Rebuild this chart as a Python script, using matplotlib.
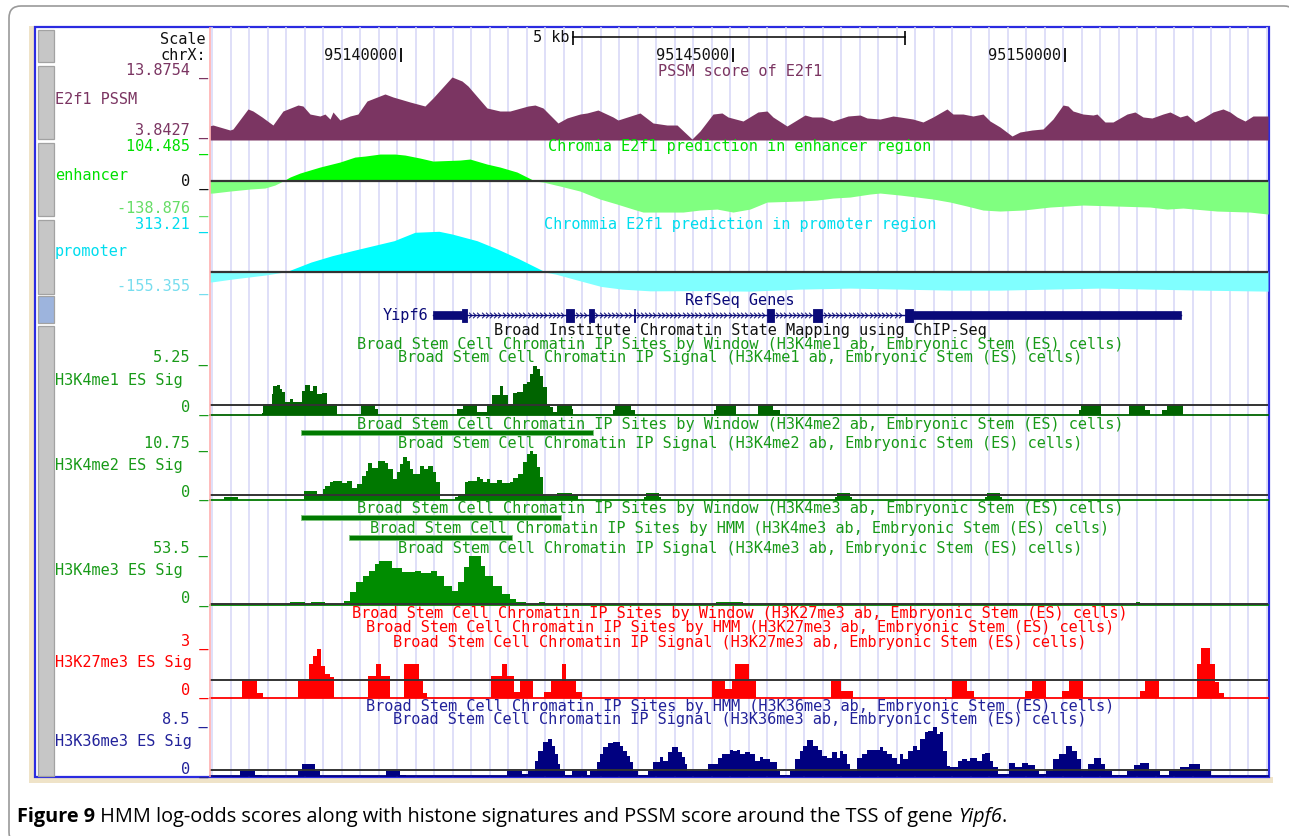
import numpy as np
import matplotlib.pyplot as plt
from matplotlib.patches import FancyBboxPatch, Rectangle
from matplotlib.path import Path

# genome browser view of chrX around Yipf6, x in kb relative to 95,140,000
view_kb = (-2.876, 13.057)
pos_ticks_kb = [0, 5, 10]
pos_tick_labels = ['95140000', '95145000', '95150000']
scale_bar_kb = (2.595, 7.595)
guide_start_kb, guide_step_kb = -2.839, 0.2786

# E2f1 PSSM score
pssm_kb = [-2.876, -2.831, -2.575, -2.530, -2.304, -2.229, -2.093, -1.928, -1.777, -1.551,
           -1.476, -1.370, -1.220, -1.145, -1.069, -1.024, -0.919, -0.768, -0.648, -0.512,
           -0.241, -0.120, -0.015, 0.136, 0.361, 0.482, 0.768, 0.919, 1.009, 1.295,
           1.491, 1.642, 1.913, 2.018, 2.139, 2.364, 2.500, 2.696, 2.801, 2.967,
           3.193, 3.268, 3.599, 3.795, 4.006, 4.157, 4.382, 4.503, 4.699, 4.834,
           4.925, 5.151, 5.376, 5.512, 5.602, 5.813, 6.084, 6.190, 6.340, 6.506,
           6.732, 6.913, 7.018, 7.214, 7.410, 7.515, 7.711, 7.861, 8.012, 8.223,
           8.313, 8.464, 8.614, 8.765, 8.870, 9.021, 9.202, 9.322, 9.503, 9.669,
           9.819, 9.970, 10.045, 10.120, 10.271, 10.422, 10.482, 10.602, 10.723, 10.934,
           11.054, 11.175, 11.310, 11.476, 11.581, 11.732, 11.837, 11.958, 12.078, 12.229,
           12.379, 12.485, 12.590, 12.711, 12.831, 13.057]
pssm_val = [6.0, 6.12, 5.36, 5.52, 8.56, 8.25, 7.34, 6.12, 8.25, 9.16,
            9.01, 7.79, 7.49, 7.79, 7.03, 8.10, 6.88, 7.49, 7.79, 9.77,
            10.84, 10.38, 10.07, 9.62, 9.01, 10.23, 13.42, 12.81, 12.05, 8.71,
            8.25, 8.25, 9.01, 9.16, 8.71, 6.43, 7.19, 7.79, 7.95, 8.40,
            7.34, 6.88, 7.95, 6.43, 6.12, 6.12, 3.99, 5.21, 7.79, 7.95,
            7.34, 6.73, 8.10, 8.25, 7.34, 5.97, 7.64, 7.34, 7.34, 6.73,
            7.49, 7.64, 7.19, 7.03, 7.49, 7.34, 7.03, 6.58, 7.34, 8.56,
            7.79, 7.79, 7.49, 7.79, 6.73, 5.82, 4.45, 5.06, 5.36, 5.52,
            7.03, 9.16, 9.01, 8.25, 7.79, 7.64, 7.79, 6.58, 6.58, 7.79,
            8.10, 7.34, 7.19, 7.79, 8.10, 7.34, 7.64, 6.58, 7.19, 8.10,
            8.56, 8.10, 7.34, 6.73, 7.49, 7.49]
pssm_range = (3.8427, 13.8754)

# Chromia E2f1 prediction, enhancer model
enh_kb = [-2.876, -2.831, -2.575, -2.274, -2.048, -1.898, -1.777, -1.672, -1.521, -1.220,
          -0.919, -0.693, -0.542, -0.316, -0.090, 0.060, 0.286, 0.482, 0.889, 1.039,
          1.295, 1.491, 1.747, 1.898, 2.018, 2.139, 2.395, 2.696, 2.997, 3.253,
          3.494, 3.645, 4.006, 4.247, 4.503, 4.759, 5.000, 5.256, 5.512, 6.009,
          6.265, 6.506, 6.762, 7.063, 7.214, 7.515, 7.771, 8.012, 8.268, 8.524,
          8.765, 9.021, 9.367, 9.774, 10.271, 10.783, 11.280, 11.536, 11.777, 12.289,
          12.786, 13.057]
enh_val = [-42, -41.7, -34.8, -27.8, -24.3, -13.9, 0, 13.9, 27.8, 48.7,
           66.1, 83.4, 86.9, 93.9, 93.9, 90.4, 80.0, 69.5, 73.0, 76.5,
           59.1, 48.7, 31.3, 13.9, 0, -3.5, -17.4, -34.8, -62.6, -80.0,
           -97.4, -107.8, -107.8, -107.8, -100.8, -97.4, -107.8, -97.4, -73.0, -69.5,
           -66.1, -59.1, -55.6, -45.2, -41.7, -48.7, -55.6, -62.6, -73.0, -86.9,
           -100.8, -104.3, -100.8, -90.4, -83.4, -86.9, -90.4, -97.4, -93.9, -104.3,
           -107.8, -114.7]
enh_range = (-138.876, 104.485)

# Chromia E2f1 prediction, promoter model
pro_kb = [-2.876, -2.836, -2.545, -2.048, -1.732, -1.355, -1.039, -0.738, -0.422, -0.105,
          0.211, 0.572, 0.768, 1.145, 1.453, 1.762, 2.139, 2.327, 2.696, 3.012,
          3.328, 3.750, 4.503, 5.256, 6.009, 6.762, 7.515, 8.268, 9.021, 9.774,
          10.527, 11.280, 12.033, 13.057]
pro_val = [-75, -73.4, -53.6, -24.2, 0, 71.2, 117.4, 154.1, 190.8, 227.5,
           289.2, 296.5, 276.7, 227.5, 166.6, 98.4, 7.3, -16.9, -66, -107.2,
           -127, -139.5, -138, -141.7, -127, -119.6, -127, -134.3, -134.3, -127,
           -119.6, -127, -134.3, -141.7]
pro_range = (-155.355, 313.21)

# RefSeq gene Yipf6
gene_span_kb = (0.482, 11.744)
utr_kb = [(0.482, 0.919), (7.707, 11.744)]
cds_kb = [(0.919, 1.001), (2.485, 2.606), (2.827, 2.902), (3.507, 3.524),
          (5.512, 5.623), (6.206, 6.339), (7.596, 7.707)]

# Broad ChIP-seq sites (window / HMM calls)
me2_window_kb = (-1.500, 2.890)
me3_window_kb = (-1.500, 2.410)
me3_hmm_kb = (-0.776, 1.672)

# Broad ChIP-seq signal, bins given by start (kb) and value
me1_start = [-2.876, -2.098, -2.074, -1.947, -1.923, -1.872, -1.822, -1.797, -1.747, -1.672,
             -1.622, -1.495, -1.446, -1.370, -1.321, -1.270, -1.194, -1.119, -0.968, -0.607,
             -0.392, -0.342, 0.839, 0.938, 1.140, 1.215, 1.291, 1.366, 1.491, 1.541,
             1.616, 1.691, 1.742, 1.842, 1.893, 1.943, 1.992, 2.044, 2.093, 2.143,
             2.194, 2.244, 2.294, 2.345, 2.571, 2.595, 3.193, 3.223, 3.464, 3.524,
             4.714, 4.744, 5.045, 5.376, 5.610, 5.708, 10.211, 10.241, 10.542, 10.964,
             11.205, 11.280, 11.461, 11.536, 11.784]
me1_val = [0, 0.17, 1.09, 2.08, 2.90, 3.00, 2.58, 2.25, 1.26, 1.59,
           1.26, 2.41, 3.00, 2.41, 2.90, 2.08, 2.15, 1.09, 0, 1.02,
           0.59, 0, 0.59, 1.02, 0.26, 0.30, 1.09, 2.02, 2.90, 2.02,
           1.09, 2.15, 2.25, 3.07, 3.24, 4.06, 4.89, 4.56, 3.90, 2.74,
           1.09, 0.76, 0.26, 1.02, 0.59, 0, 0.5, 1.02, 0.5, 0,
           0.5, 1.02, 0, 1.02, 0.5, 0, 0.5, 1.02, 0, 1.02,
           0.5, 0, 0.5, 1.02, 0]

me2_start = [-2.876, -2.666, -2.455, -1.461, -1.270, -1.179, -1.145, -1.069, -1.020, -0.893,
             -0.818, -0.742, -0.667, -0.592, -0.527, -0.492, -0.441, -0.342, -0.241, -0.191,
             -0.116, -0.065, -0.015, 0.035, 0.086, 0.136, 0.185, 0.286, 0.346, 0.411,
             0.486, 0.527, 0.587, 0.813, 0.858, 0.964, 1.014, 1.140, 1.190, 1.239,
             1.291, 1.340, 1.441, 1.517, 1.642, 1.691, 1.767, 1.842, 1.893, 1.943,
             1.992, 2.044, 2.093, 2.143, 2.169, 2.345, 2.571, 2.670, 3.660, 3.690,
             3.885, 3.916, 6.536, 6.566, 6.762, 6.792, 8.795, 8.825, 9.021, 9.051]
me2_val = [0, 0.6, 0, 1.79, 1.15, 2.11, 2.75, 3.39, 3.58, 3.26,
           3.58, 2.30, 3.07, 4.67, 5.63, 7.10, 6.08, 7.55, 7.10, 5.95,
           4.03, 5.32, 6.91, 8.19, 7.55, 5.95, 4.99, 6.59, 5.95, 6.59,
           5.32, 3.52, 0, 0.5, 1.1, 3.39, 3.71, 4.35, 4.03, 3.39,
           4.0, 3.26, 3.90, 3.26, 3.39, 4.23, 4.99, 7.23, 8.83, 9.47,
           8.83, 6.27, 4.5, 1.0, 0.7, 1.34, 0.96, 0, 0.6, 1.3,
           0.6, 0, 0.6, 1.3, 0.6, 0, 0.6, 1.3, 0.6, 0]

me3_start = [-2.876, -2.417, -1.672, -1.446, -1.355, -1.145, -0.858, -0.768, -0.670, -0.575,
             -0.482, -0.389, -0.325, -0.139, 0.018, 0.205, 0.298, 0.455, 0.548, 0.642,
             0.767, 0.860, 0.953, 1.017, 1.203, 1.267, 1.392, 1.517, 1.642, 1.735,
             1.890, 2.078, 2.172, 2.327, 2.422, 2.636, 4.578, 4.744, 5.151, 7.063,
             7.304, 10.934, 11.069, 11.129, 11.265, 12.620, 12.861]
me3_val = [0.8, 0, 3.3, 0, 3.3, 1, 4.4, 12.8, 22.9, 29.6,
           34.6, 41.4, 44.7, 37, 33, 34.6, 32.3, 34.6, 29.6, 19.5,
           14.5, 22.9, 38, 49.1, 39.7, 29.6, 19.5, 11.1, 6, 3.3,
           1, 3.3, 0, 1.5, 0, 1, 0, 3.3, 1, 0,
           1, 0, 3, 0, 1, 0, 1]

k27_start = [-2.876, -2.387, -2.169, -2.074, -1.556, -1.387, -1.325, -1.262, -1.200, -1.139,
             -1.075, -1.014, -0.494, -0.369, -0.295, -0.170, 0.048, 0.267, 0.330, 0.392,
             1.360, 1.517, 1.590, 1.703, 1.797, 1.985, 2.154, 2.253, 2.422, 2.483,
             2.640, 2.733, 4.684, 4.882, 4.982, 5.035, 5.247, 5.346, 6.483, 6.623,
             6.801, 8.291, 8.522, 8.622, 9.402, 9.501, 9.714, 9.958, 10.063, 10.275,
             11.122, 11.202, 11.414, 11.995, 12.054, 12.188, 12.254, 12.319, 12.387]
k27_val = [0, 0.94, 0.28, 0, 0.94, 1.92, 2.40, 2.77, 1.83, 1.36,
           1.17, 0, 1.23, 1.92, 1.23, 0, 1.92, 0.94, 0.28, 0,
           1.23, 1.92, 1.23, 0.34, 0.94, 0, 0.34, 0.94, 1.92, 0.94,
           0.34, 0, 0.94, 0.5, 0.94, 1.92, 0.94, 0, 0.94, 0.4,
           0, 0.94, 0.4, 0, 0.4, 0.94, 0, 0.4, 0.94, 0,
           0.4, 0.94, 0, 1.92, 2.83, 1.92, 0.9, 0.3, 0]

k36_start = [-2.876, -2.417, -2.199, -2.093, -1.556, -1.494, -1.294, -1.220, -0.232, -0.014,
             0.080, 1.592, 1.818, 1.917, 2.018, 2.068, 2.143, 2.218, 2.270, 2.319,
             2.369, 2.395, 2.470, 2.571, 2.797, 2.846, 2.947, 2.997, 3.047, 3.122,
             3.197, 3.298, 3.348, 3.399, 3.449, 3.498, 3.574, 3.724, 3.800, 3.901,
             3.950, 4.026, 4.077, 4.176, 4.227, 4.277, 4.303, 4.628, 4.778, 4.830,
             4.955, 5.004, 5.056, 5.105, 5.181, 5.256, 5.331, 5.407, 5.456, 5.557,
             5.658, 5.708, 5.858, 5.934, 6.009, 6.059, 6.110, 6.209, 6.285, 6.336,
             6.411, 6.486, 6.562, 6.611, 6.661, 6.712, 6.762, 6.863, 6.938, 7.013,
             7.089, 7.214, 7.263, 7.315, 7.390, 7.465, 7.515, 7.565, 7.640, 7.715,
             7.766, 7.816, 7.891, 7.941, 8.016, 8.068, 8.117, 8.167, 8.218, 8.268,
             8.393, 8.444, 8.519, 8.569, 8.670, 8.745, 8.795, 8.870, 8.920, 8.995,
             9.150, 9.250, 9.349, 9.449, 9.548, 9.614, 9.714, 9.812, 9.909, 10.010,
             10.110, 10.176, 10.242, 10.342, 10.441, 10.540, 10.607, 10.706, 10.937, 11.036,
             11.135, 11.268, 11.434, 11.566, 11.732, 11.864, 12.028, 12.194]
k36_val = [0, 0.77, 0.1, 0, 0.77, 1.96, 0.77, 0, 0.77, 0.2,
           0, 0.77, 0.3, 0.77, 2.5, 4.14, 5.5, 6.05, 4.96, 3.6,
           1.96, 0.77, 0.2, 0.77, 0.2, 0.77, 2.24, 3.6, 4.69, 5.34,
           5.5, 4.96, 4.14, 3.33, 2.24, 0.77, 0.2, 0.77, 2.24, 3.16,
           2.5, 3.87, 4.79, 3.87, 3.16, 1.96, 0.77, 1.96, 3.0, 3.6,
           4.3, 4.14, 4.3, 3.6, 4.0, 3.6, 2.5, 3.16, 2.8, 2.24,
           0.77, 0.2, 0.77, 2.8, 4.14, 4.96, 5.94, 4.96, 4.3, 3.33,
           3.0, 3.87, 3.0, 4.14, 3.6, 1.96, 0.77, 3.0, 3.6, 4.2,
           4.3, 4.79, 4.14, 3.6, 3.0, 1.96, 3.6, 2.8, 4.14, 4.96,
           4.3, 6.05, 7.14, 7.4, 7.96, 6.87, 7.14, 4.14, 1.7, 1.44,
           2.5, 2.8, 2.5, 2.9, 2.5, 3.6, 3.7, 2.5, 1.44, 0.3,
           2.1, 1.4, 2.2, 1.8, 0.9, 0.3, 0.77, 2.78, 3.6, 4.96,
           4.14, 2.78, 0.77, 1.96, 3.0, 1.96, 0.77, 0.2, 0.77, 1.8,
           2.1, 0.77, 0.2, 0.77, 1.5, 1.96, 0.77, 0]
signal_ymax = {'me1': 5.25, 'me2': 10.75, 'me3': 53.5, 'k27': 3, 'k36': 8.5}

# ---- styling / layout ----
W, H = 1289, 837
MONO = 'DejaVu Sans Mono'
FS = 11.0
DATA_L, DATA_R = 210, 1268
MAROON = '#7B3562'
ENH_POS, ENH_NEG, ENH_TXT, ENH_TXT2 = '#00FF00', '#80FF80', '#00E000', '#66DD66'
PRO_POS, PRO_NEG, PRO_TXT, PRO_TXT2 = '#00FFFF', '#80FFFF', '#00DDEE', '#77DDEE'
GREEN_TXT = '#189A18'
RED = '#FF0000'
NAVY = '#000080'
NAVY_TXT = '#22229A'
GENE = '#0A0A78'

fig = plt.figure(figsize=(W / 100, H / 100), dpi=100)


def fx(x):
    return x / W


def fy(y):
    return 1 - y / H


def add_track(top, bot, ylim=(0, 1), z=3):
    ax = fig.add_axes([fx(DATA_L), fy(bot), (DATA_R - DATA_L) / W, (bot - top) / H], zorder=z)
    ax.set_xlim(*view_kb)
    ax.set_ylim(*ylim)
    ax.axis('off')
    return ax


def label(x, y, s, color='#111111', ha='right'):
    fig.text(fx(x), fy(y), s, ha=ha, va='center', family=MONO, size=FS, color=color, zorder=6)


# page panel, browser frame and track buttons
back = fig.add_axes([0, 0, 1, 1], zorder=0)
back.set_xlim(0, W)
back.set_ylim(H, 0)
back.axis('off')
back.add_patch(FancyBboxPatch((9, 7), 1287, 838, boxstyle='round,pad=0,rounding_size=12',
                              fc='white', ec='#9a9a9a', lw=1.2))
back.add_patch(Rectangle((29, 27), 5, 757, fc='#EFE3C8', lw=0))
back.add_patch(Rectangle((29, 778), 1244, 6, fc='#EFE3C8', lw=0))
back.add_patch(Rectangle((34.5, 27.5), 1234.5, 750.5, fill=False, ec='#2B2BE0', lw=1.6))
buttons = [(31, 63), (67, 140), (144, 217), (221, 295), (297, 324), (327, 777)]
for i, (t, b) in enumerate(buttons):
    fc = '#9DB4DD' if i == 4 else '#C6C6C6'
    back.add_patch(Rectangle((37.5, t), 16.5, b - t, fc=fc, ec='#A2A2A2', lw=0.9))

# light guide lines behind the tracks
grid = add_track(28, 778, z=1)
grid.vlines(np.arange(guide_start_kb, view_kb[1], guide_step_kb), 0, 1, color='#D6D6F6', lw=1.1)

# base position / scale row
sc = add_track(28, 64, ylim=(64, 28))
sc.plot(scale_bar_kb, [38, 38], color='black', lw=1.1)
sc.vlines(scale_bar_kb, 32, 46, color='black', lw=1.2)
sc.annotate('5 kb', (scale_bar_kb[0], 38), xytext=(-3, 0), textcoords='offset points',
            ha='right', va='center', family=MONO, size=FS, color='#111111')
sc.vlines(pos_ticks_kb, 49, 63, color='black', lw=1.3)
for k, s in zip(pos_ticks_kb, pos_tick_labels):
    sc.annotate(s, (k, 56), xytext=(-3, 0), textcoords='offset points',
                ha='right', va='center', family=MONO, size=FS, color='#111111')

# PSSM
ax = add_track(75, 141, pssm_range)
ax.fill_between(pssm_kb, pssm_val, pssm_range[0], color=MAROON, lw=0)

# enhancer / promoter predictions
for (top, bot), kb, val, rng, cpos, cneg in [((152, 222), enh_kb, enh_val, enh_range, ENH_POS, ENH_NEG),
                                             ((230, 294), pro_kb, pro_val, pro_range, PRO_POS, PRO_NEG)]:
    ax = add_track(top, bot, rng)
    v = np.array(val)
    ax.fill_between(kb, np.clip(v, 0, None), 0, color=cpos, lw=0)
    ax.fill_between(kb, np.clip(v, None, 0), 0, color=cneg, lw=0)
    ax.axhline(0, color='#333333', lw=1.6)

# gene model
g = add_track(306, 326, (-10, 10))
g.plot(gene_span_kb, [0, 0], color=GENE, lw=1)
g.broken_barh([(s, e - s) for s, e in utr_kb], (-4, 8), fc=GENE, ec=GENE, lw=0.5)
g.broken_barh([(s, e - s) for s, e in cds_kb], (-6.5, 13), fc=GENE, ec=GENE, lw=0.6)
blocks = sorted(utr_kb + cds_kb)
chevron = Path([(-0.5, 1), (0.5, 0), (-0.5, -1)], [Path.MOVETO, Path.LINETO, Path.LINETO])
for (s0, e0), (s1, e1) in zip(blocks[:-1], blocks[1:]):
    pts = np.arange(e0 + 0.04, s1 - 0.02, 0.063)
    g.plot(pts, np.zeros_like(pts), ls='none', marker=chevron, ms=4, mfc='none',
           mec=GENE, mew=0.7)

# window / HMM site calls
for row, (s, e) in [(433, me2_window_kb), (518, me3_window_kb), (538, me3_hmm_kb)]:
    b = add_track(row - 2.5, row + 2.5)
    b.broken_barh([(s, e - s)], (0, 1), fc='#007A00', ec='#7FC47F', lw=0.6)


# ChIP-seq signal tracks
def signal(top, bot, ymax, starts, vals, color):
    ax = add_track(top, bot, (0, ymax))
    ax.stairs(vals, list(starts) + [view_kb[1]], baseline=0, fill=True, color=color, lw=0)
    ax.axhline(0, color=color, lw=1.3, clip_on=False)
    ax.axhline(1, color='#333333', lw=1.4)
    return ax


signal(363, 416, signal_ymax['me1'], me1_start, me1_val, '#006400')
signal(445, 501, signal_ymax['me2'], me2_start, me2_val, '#007800')
signal(553, 606, signal_ymax['me3'], me3_start, me3_val, '#008C00')
signal(646, 699, signal_ymax['k27'], k27_start, k27_val, RED)
signal(725, 777, signal_ymax['k36'], k36_start, k36_val, NAVY)

# red separator between labels and data
top = fig.add_axes([0, 0, 1, 1], zorder=5)
top.set_xlim(0, W)
top.set_ylim(H, 0)
top.axis('off')
top.vlines(DATA_L, 28, 778, color='#FFA8A8', lw=1.1)

# left-hand labels
label(206, 39, 'Scale')
label(206, 56, 'chrX:')
label(208, 71, '13.8754 _', MAROON)
label(55, 99, 'E2f1 PSSM', MAROON, 'left')
label(208, 131, '3.8427 _', MAROON)
label(208, 147, '104.485 _', ENH_TXT)
label(55, 175, 'enhancer', ENH_TXT, 'left')
label(208, 182, '0 _')
label(208, 209, '-138.876 _', ENH_TXT2)
label(208, 225, '313.21 _', PRO_TXT)
label(55, 252, 'promoter', PRO_TXT, 'left')
label(208, 287, '-155.355 _', PRO_TXT2)
for (y_top, y_name, y_zero, top_lab, name, col) in [
        (358, 381, 408, '5.25 _', 'H3K4me1 ES Sig', GREEN_TXT),
        (444, 466, 493, '10.75 _', 'H3K4me2 ES Sig', GREEN_TXT),
        (549, 571, 599, '53.5 _', 'H3K4me3 ES Sig', GREEN_TXT),
        (642, 663, 691, '3 _', 'H3K27me3 ES Sig', RED),
        (720, 742, 770, '8.5 _', 'H3K36me3 ES Sig', NAVY_TXT)]:
    label(208, y_top, top_lab, col)
    label(55, y_name, name, col, 'left')
    label(208, y_zero, '0 _', col)

# track titles
CX = 740
label(CX, 71, 'PSSM score of E2f1', MAROON, 'center')
label(CX, 147, 'Chromia E2f1 prediction in enhancer region', ENH_TXT, 'center')
label(CX, 225, 'Chrommia E2f1 prediction in promoter region', PRO_TXT, 'center')
label(CX, 301, 'RefSeq Genes', GENE, 'center')
label(428, 316, 'Yipf6', GENE)
label(CX, 331, 'Broad Institute Chromatin State Mapping using ChIP-Seq', '#111111', 'center')
es = 'ab, Embryonic Stem (ES) cells)'
titles = [(345, 'Sites by Window', 'H3K4me1', GREEN_TXT), (358, 'Signal', 'H3K4me1', GREEN_TXT),
          (424, 'Sites by Window', 'H3K4me2', GREEN_TXT), (444, 'Signal', 'H3K4me2', GREEN_TXT),
          (509, 'Sites by Window', 'H3K4me3', GREEN_TXT), (529, 'Sites by HMM', 'H3K4me3', GREEN_TXT),
          (549, 'Signal', 'H3K4me3', GREEN_TXT),
          (614, 'Sites by Window', 'H3K27me3', RED), (628, 'Sites by HMM', 'H3K27me3', RED),
          (642, 'Signal', 'H3K27me3', RED),
          (707, 'Sites by HMM', 'H3K36me3', NAVY_TXT), (720, 'Signal', 'H3K36me3', NAVY_TXT)]
for y, kind, mark, col in titles:
    label(CX, y, f'Broad Stem Cell Chromatin IP {kind} ({mark} {es}', col, 'center')

# caption
CAP = 'Open Sans'
CS = 14.3
t1 = back.text(17, 827, 'Figure 9', family=CAP, weight='bold', size=CS, va='bottom', ha='left')
t2 = back.annotate(' HMM log-odds scores along with histone signatures and PSSM score around the TSS of gene ',
                   xy=(1, 0), xycoords=t1, va='bottom', ha='left', family=CAP, size=CS)
t3 = back.annotate('Yipf6', xy=(1, 0), xycoords=t2, va='bottom', ha='left', family=CAP,
                   style='italic', size=CS)
back.annotate('.', xy=(1, 0), xycoords=t3, va='bottom', ha='left', family=CAP, size=CS)

fig.savefig('out.png', dpi=100)
